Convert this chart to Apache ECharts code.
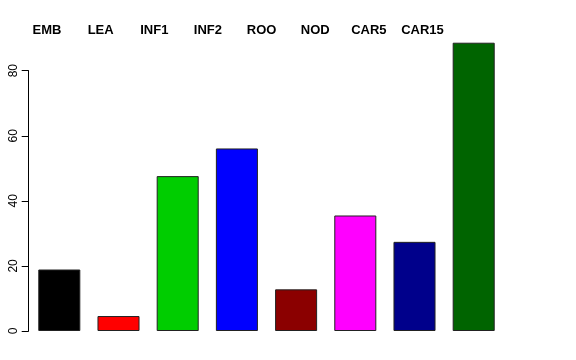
<!DOCTYPE html>
<html><head><meta charset="utf-8">
<script src="https://cdn.jsdelivr.net/npm/echarts@6/dist/echarts.min.js"></script>
<style>html,body{margin:0;padding:0;background:#fff}#c{width:576px;height:360px}</style>
</head><body><div id="c"></div>
<script>
var categories = ["EMB","LEA","INF1","INF2","ROO","NOD","CAR5","CAR15"];
var values = [18.9, 4.6, 47.6, 56.1, 12.8, 35.5, 27.4, 88.6];
var colors = ["#000000","#FF0000","#00CD00","#0000FF","#8B0000","#FF00FF","#00008B","#006400"];
var yTicks = [0, 20, 40, 60, 80];

var chart = echarts.init(document.getElementById('c'), null, {renderer:'canvas'});
var font = "'Liberation Sans', Arial, Helvetica, sans-serif";
chart.setOption({
  animation: false,
  backgroundColor: '#ffffff',
  grid: [
    {left: 29.7, width: 473.6, top: 70.7, height: 260.3},
    {left: 20.2, width: 429.1, top: 37, height: 10}
  ],
  xAxis: [
    {type:'category', gridIndex:0, data: categories, show: true,
     axisLine:{show:false}, axisTick:{show:false}, axisLabel:{show:false}},
    {type:'category', gridIndex:1, data: categories, position:'top',
     axisLine:{show:false}, axisTick:{show:false},
     axisLabel:{show:true, interval:0, hideOverlap:false, margin:0, color:'#000', fontWeight:'bold', fontSize:13, fontFamily:font}}
  ],
  yAxis: [
    {type:'value', gridIndex:0, min: yTicks[0], max: yTicks[yTicks.length-1], interval: 20, offset: 1,
     axisLine:{show:true, lineStyle:{color:'#000', width:1}},
     axisTick:{show:true, length:7, lineStyle:{color:'#000'}},
     splitLine:{show:false},
     axisLabel:{rotate:90, margin:9, color:'#000', fontSize:12, fontFamily:font}},
    {type:'value', gridIndex:1, show:false}
  ],
  series: [{
    type:'bar', xAxisIndex:0, yAxisIndex:0, clip:false,
    barCategoryGap: '29%',
    data: values.map(function(v,i){return {value:v, itemStyle:{color:colors[i]}};}),
    itemStyle:{borderColor:'#222', borderWidth:1}
  }]
});
</script></body></html>
